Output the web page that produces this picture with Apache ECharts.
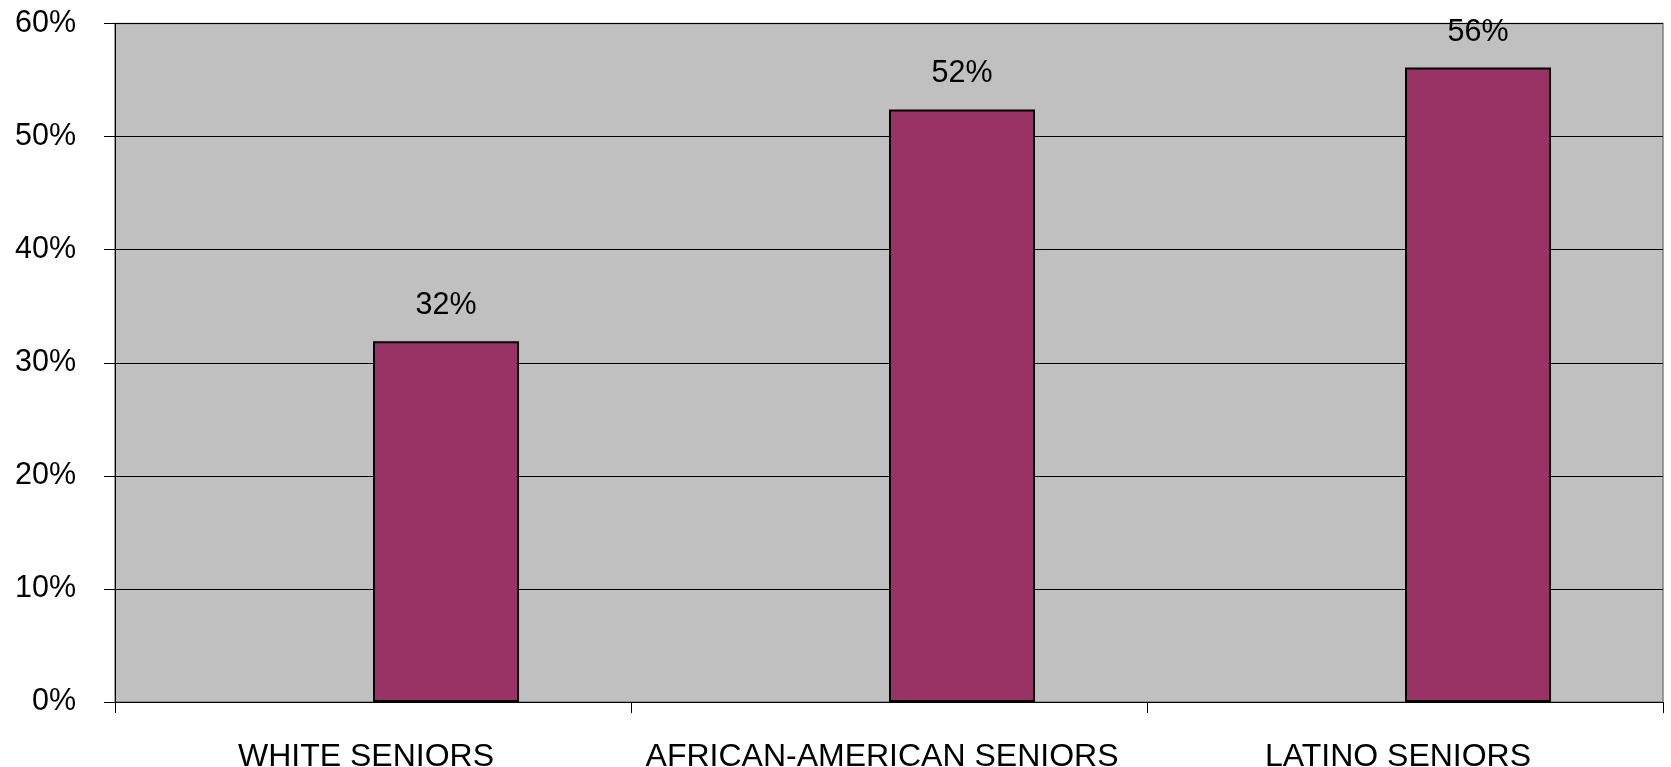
<!DOCTYPE html>
<html><head><meta charset="utf-8">
<script src="https://cdn.jsdelivr.net/npm/echarts@6/dist/echarts.min.js"></script>
<style>html,body{margin:0;padding:0;background:#fff}#c{width:1671px;height:767px}</style>
</head><body><div id="c"></div>
<script>
const categories = ['WHITE SENIORS', 'AFRICAN-AMERICAN SENIORS', 'LATINO SENIORS'];
const placeholderValues = [null, null, null];
const seniorValues = [31.9, 52.4, 56.1];
const yTicks = [0, 10, 20, 30, 40, 50, 60];

const chart = echarts.init(document.getElementById('c'));
const font = 'Liberation Sans, Arial, sans-serif';
chart.setOption({
  animation: false,
  grid: { left: 115, right: 8, top: 23.5, bottom: 65, containLabel: false, outerBoundsMode: 'none', show: true, backgroundColor: '#C0C0C0', borderColor: '#808080', borderWidth: 1.5 },
  xAxis: {
    type: 'category', data: categories,
    axisLine: { lineStyle: { color: '#000', width: 1 } },
    axisTick: { show: true, interval: 0, length: 11, lineStyle: { color: '#000' } },
    axisLabel: { interval: 0, hideOverlap: false, color: '#000', fontSize: 32, fontFamily: font, margin: 39, padding: [0, 14, 0, 0] }
  },
  yAxis: {
    type: 'value', min: yTicks[0], max: yTicks[yTicks.length - 1], interval: 10,
    axisLine: { show: true, lineStyle: { color: '#000', width: 1 } },
    axisTick: { show: true, length: 11, lineStyle: { color: '#000' } },
    axisLabel: { color: '#000', fontSize: 30.5, fontFamily: font, margin: 39, formatter: v => v + '%' },
    splitLine: { lineStyle: { color: '#000', width: 1 } }
  },
  series: [
    { type: 'bar', data: placeholderValues, barWidth: '28.3%', barGap: '0%', itemStyle: { color: '#993366' } },
    { type: 'bar', data: seniorValues, barWidth: '28.3%', barGap: '0%',
      itemStyle: { color: '#993366', borderColor: '#000', borderWidth: 2 },
      label: { show: true, position: 'top', distance: 20, color: '#000', fontSize: 30.5, fontFamily: font, formatter: p => Math.round(p.value) + '%' } }
  ]
});
</script></body></html>
